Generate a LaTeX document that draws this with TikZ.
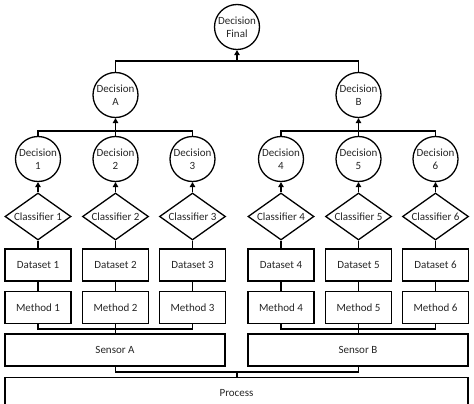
\documentclass[tikz,border=0pt]{standalone}
\usepackage{fontspec}
\setmainfont{Carlito}
\usetikzlibrary{shapes.geometric,arrows.meta}
\begin{document}
\begin{tikzpicture}[x=1pt,y=-1pt,
  every node/.style={font=\fontsize{11}{13}\selectfont, text=black!85},
  dec/.style={circle, draw, line width=1.3pt, minimum size=45pt, inner sep=0pt, align=center},
  cls/.style={diamond, draw, line width=1.3pt, minimum width=66pt, minimum height=47pt, inner sep=0pt, aspect=1.4},
  box/.style={rectangle, draw, line width=1.3pt, minimum width=66pt, minimum height=32pt, inner sep=0pt},
  wide/.style={rectangle, draw, line width=1.3pt, minimum height=32pt, inner sep=0pt},
  conn/.style={line width=1.3pt},
  arr/.style={line width=1.3pt, -{Triangle[length=5pt,width=5.5pt]}}]
\useasboundingbox (0,0) rectangle (474,404);
\begin{scope}
\clip (0,0) rectangle (474,404);
\node[wide, minimum width=463pt, minimum height=40pt, anchor=north] (proc) at (236.5,377) {};
\node at (236.5,393) (proctext) {Process};
\end{scope}
\node[wide, minimum width=220pt] (sA) at (115,350) {Sensor A};
\node[wide, minimum width=220pt] (sB) at (358,350) {Sensor B};
\foreach \i/\x in {1/38,2/115.5,3/192.5,4/281,5/358.5,6/435.5}{
  \node[box] (m\i) at (\x,307.5) {Method \i};
  \node[box] (ds\i) at (\x,265) {Dataset \i};
  \node[cls] (c\i) at (\x,216.5) {Classifier \i};
  \node[dec] (d\i) at (\x,159) {Decision\\\i};
}
\node[dec] (dA) at (115.5,95) {Decision\\A};
\node[dec] (dB) at (358.5,95) {Decision\\B};
\node[dec] (dF) at (237,27) {Decision\\Final};
% process to sensors
\coordinate (jP) at (237,372);
\draw[conn] (sA.south -| dA) |- (jP) -| (sB.south -| dB);
\draw[conn] (proc.north -| jP) -- (jP);
% sensors to methods
\coordinate (jSA) at (115.5,329);
\coordinate (jSB) at (358.5,329);
\draw[conn] (m1.south) |- (jSA) -| (m3.south);
\draw[conn] (m2.south) -- (sA.north -| m2);
\draw[conn] (m4.south) |- (jSB) -| (m6.south);
\draw[conn] (m5.south) -- (sB.north -| m5);
\foreach \i in {1,...,6}{
  \draw[conn] (m\i.north) -- (ds\i.south);
  \draw[conn] (ds\i.north) -- (c\i.south);
  \draw[arr] (c\i.north) -- (d\i.south);
}
\coordinate (jA) at (115.5,131);
\coordinate (jB) at (358.5,131);
\draw[conn] (d1.north) |- (jA) -| (d3.north);
\draw[arr] (d2.north) -- (dA.south);
\draw[conn] (d4.north) |- (jB) -| (d6.north);
\draw[arr] (d5.north) -- (dB.south);
\coordinate (jF) at (237,61);
\draw[conn] (dA.north) |- (jF) -| (dB.north);
\draw[arr] (jF) -- (dF.south);
\end{tikzpicture}
\end{document}
